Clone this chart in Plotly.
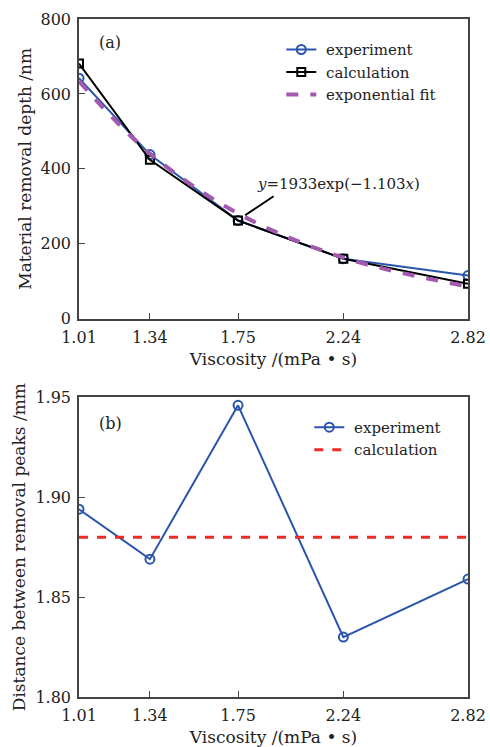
import plotly.graph_objects as go
from plotly.subplots import make_subplots

viscosity = [1.01, 1.34, 1.75, 2.24, 2.82]
tick_labels = ["1.01", "1.34", "1.75", "2.24", "2.82"]

depth_experiment = [642, 438, 262, 160, 115]
depth_calculation = [681, 424, 262, 160, 93]
depth_fit = [634, 441, 281, 163, 86]

peak_experiment = [1.894, 1.869, 1.946, 1.830, 1.859]
peak_calculation = [1.880, 1.880, 1.880, 1.880, 1.880]

FONT = "DejaVu Serif"
BLUE = "#2a55ad"
PURPLE = "#a35aae"
RED = "#ee2a24"
AXC = "#444444"
TXT = "#222222"
NB = "\u00a0"

fig = make_subplots(rows=2, cols=1, vertical_spacing=0.116)

fig.add_trace(go.Scatter(x=viscosity, y=depth_experiment, mode="lines+markers", name=NB + "experiment",
                         line=dict(color=BLUE, width=2),
                         marker=dict(symbol="circle-open", size=9, color=BLUE, line=dict(width=2)),
                         legend="legend"), row=1, col=1)
fig.add_trace(go.Scatter(x=viscosity, y=depth_calculation, mode="lines+markers", name=NB + "calculation",
                         line=dict(color="black", width=2),
                         marker=dict(symbol="square-open", size=8, color="black", line=dict(width=2)),
                         legend="legend"), row=1, col=1)
fig.add_trace(go.Scatter(x=viscosity, y=depth_fit, mode="lines", name=NB + "exponential fit",
                         line=dict(color=PURPLE, width=4, dash="dash", shape="spline"),
                         legend="legend"), row=1, col=1)

fig.add_trace(go.Scatter(x=viscosity, y=peak_experiment, mode="lines+markers", name=NB + "experiment",
                         line=dict(color=BLUE, width=2),
                         marker=dict(symbol="circle-open", size=9, color=BLUE, line=dict(width=2)),
                         legend="legend2"), row=2, col=1)
fig.add_trace(go.Scatter(x=viscosity, y=peak_calculation, mode="lines", name=NB + "calculation",
                         line=dict(color=RED, width=3, dash="dash"),
                         legend="legend2"), row=2, col=1)

axis_common = dict(showline=True, linecolor=AXC, linewidth=1.5, mirror=True, automargin=False,
                   ticks="inside", ticklen=6, tickcolor=AXC, showgrid=False, zeroline=False,
                   tickfont=dict(family=FONT, size=16, color=TXT))
title_font = dict(family=FONT, size=17, color=TXT)

for r in (1, 2):
    fig.update_xaxes(range=[1.01, 2.82], tickvals=viscosity, ticktext=tick_labels,
                     ticklabelstandoff=3,
                     title=dict(text="Viscosity /(mPa • s)", font=title_font, standoff=7),
                     **axis_common, row=r, col=1)

fig.update_yaxes(range=[0, 800], tickvals=[0, 200, 400, 600, 800], ticklabelstandoff=3,
                 title=dict(text="Material removal depth /nm", font=title_font, standoff=5),
                 **axis_common, row=1, col=1)
fig.update_yaxes(range=[1.80, 1.95], tickvals=[1.80, 1.85, 1.90, 1.95], ticktext=["1.80", "1.85", "1.90", "1.95"],
                 ticklabelstandoff=3,
                 title=dict(text="Distance between removal peaks /mm", font=title_font, standoff=5),
                 **axis_common, row=2, col=1)

legend_font = dict(family=FONT, size=15, color=TXT)
fig.update_layout(
    width=490, height=747,
    margin=dict(l=79, r=22, t=19, b=50),
    plot_bgcolor="white", paper_bgcolor="white",
    legend=dict(x=0.52, y=0.979, xanchor="left", yanchor="top", font=legend_font,
                bgcolor="rgba(0,0,0,0)", itemwidth=30, tracegroupgap=0),
    legend2=dict(x=0.592, y=0.422, xanchor="left", yanchor="top", font=legend_font,
                 bgcolor="rgba(0,0,0,0)", itemwidth=30, tracegroupgap=0),
)

fig.add_annotation(text="(a)", xref="x domain", yref="y domain", x=0.045, y=0.92, showarrow=False,
                   xanchor="left", yanchor="middle", font=dict(family=FONT, size=16, color=TXT))
fig.add_annotation(text="(b)", xref="x2 domain", yref="y2 domain", x=0.045, y=0.913, showarrow=False,
                   xanchor="left", yanchor="middle", font=dict(family=FONT, size=16, color=TXT))

fig.add_annotation(x=1.783, y=276, xref="x", yref="y", ax=30, ay=-20, showarrow=True, arrowhead=0,
                   arrowwidth=2, arrowcolor="black", text="")
fig.add_annotation(x=1.83, y=360, xref="x", yref="y", xanchor="left", yanchor="middle", showarrow=False,
                   text="<i>y</i>=1933exp(−1.103<i>x</i>)", font=dict(family=FONT, size=15, color=TXT))

fig.write_html("out.html")
